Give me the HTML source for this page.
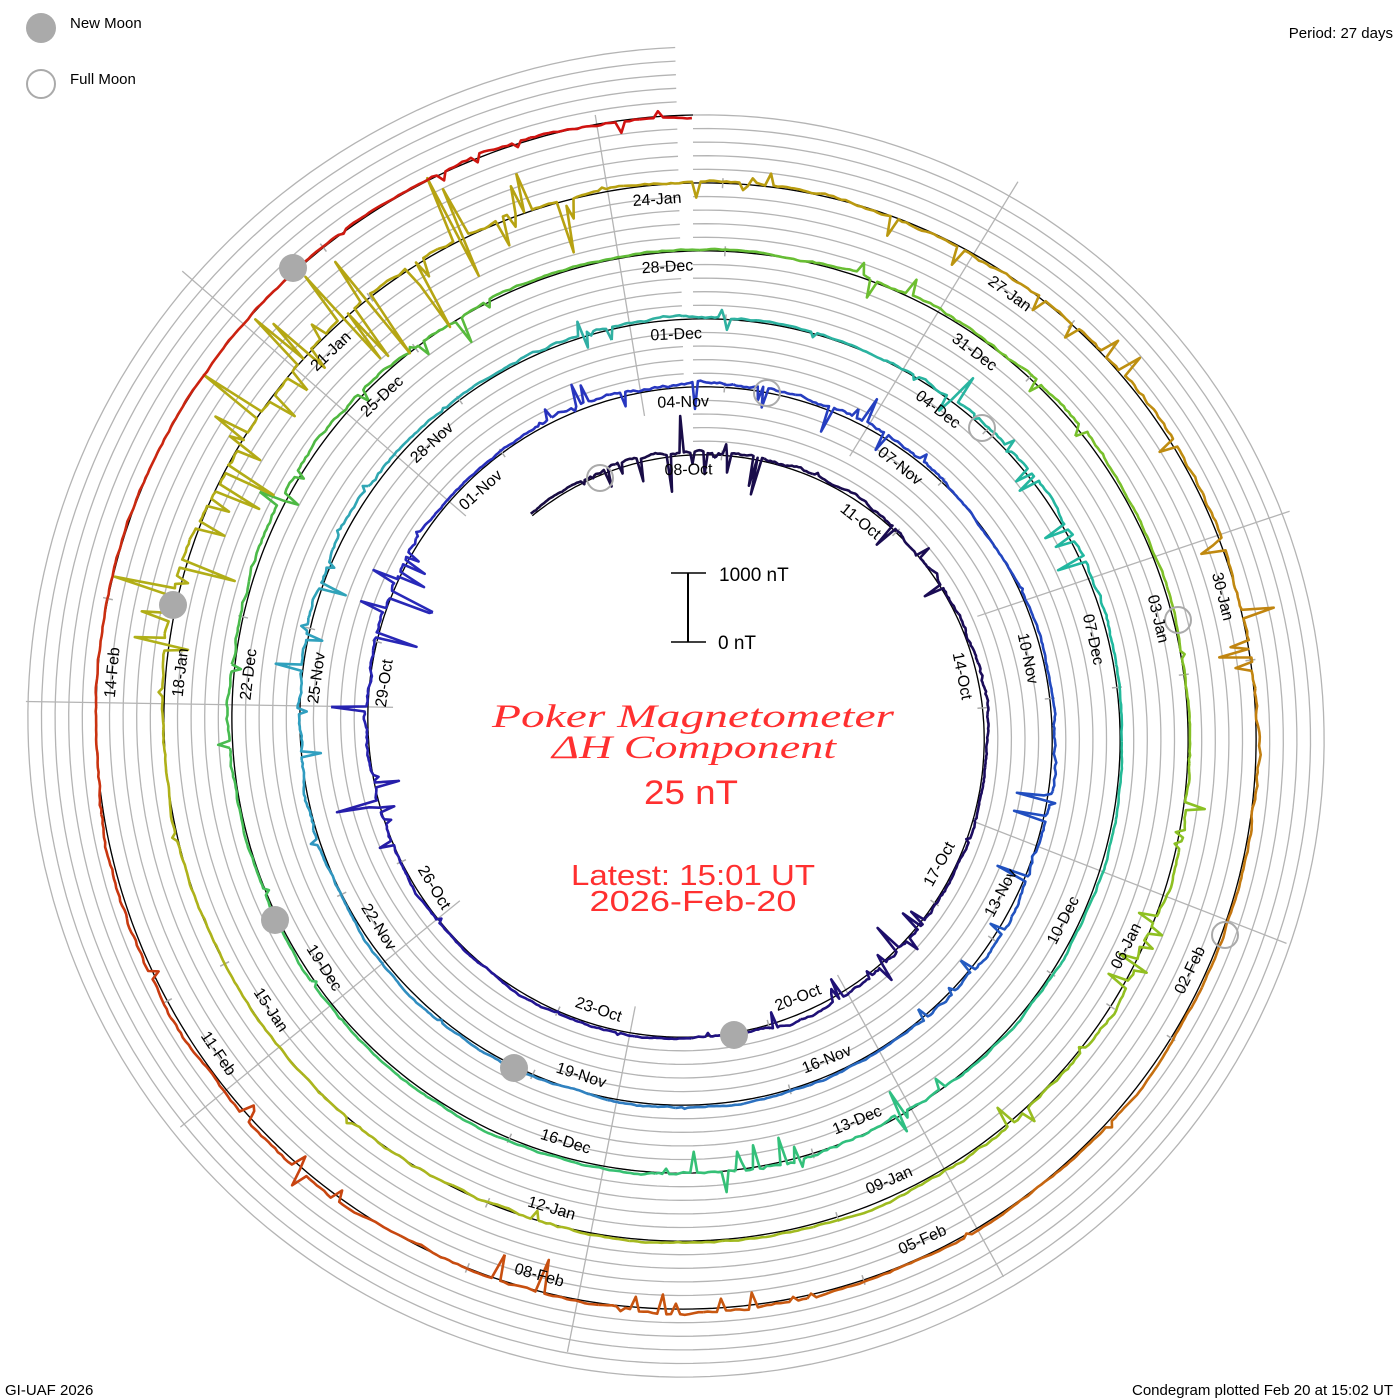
<!DOCTYPE html>
<html><head><meta charset="utf-8"><style>
html,body{margin:0;padding:0;background:#fff;}
svg{display:block;}
text{font-family:"Liberation Sans",sans-serif;}
</style></head><body>
<svg id="s" width="1400" height="1400" viewBox="0 0 1400 1400" xmlns="http://www.w3.org/2000/svg">
<rect width="1400" height="1400" fill="#fff"/>
<g id="grid"></g>
<g id="base"></g>
<g id="trace"></g>
<g id="moons"></g>
<g id="labels"></g>
<circle cx="41" cy="28" r="15" fill="#aaa"/>
<text x="70" y="28" font-size="15" fill="#000">New Moon</text>
<circle cx="41" cy="84" r="14" fill="none" stroke="#aaa" stroke-width="2"/>
<text x="70" y="84" font-size="15" fill="#000">Full Moon</text>
<text x="1393" y="38" font-size="15" text-anchor="end" fill="#000">Period: 27 days</text>
<text x="5" y="1395" font-size="15" fill="#000">GI-UAF 2026</text>
<text x="1393" y="1395" font-size="15" text-anchor="end" fill="#000">Condegram plotted Feb 20 at 15:02 UT</text>
<line x1="688" y1="573" x2="688" y2="642" stroke="#000" stroke-width="2"/>
<line x1="671" y1="573" x2="706" y2="573" stroke="#000" stroke-width="1.5"/>
<line x1="671" y1="642" x2="706" y2="642" stroke="#000" stroke-width="1.5"/>
<text x="719" y="581" font-size="19" fill="#000">1000 nT</text>
<text x="718" y="649" font-size="19" fill="#000">0 nT</text>
<text x="693" y="727" font-size="33" font-style="italic" text-anchor="middle" fill="#ff3030" textLength="402" lengthAdjust="spacingAndGlyphs" style="font-family:'Liberation Serif',serif">Poker Magnetometer</text>
<text x="694" y="758" font-size="33" font-style="italic" text-anchor="middle" fill="#ff3030" textLength="284" lengthAdjust="spacingAndGlyphs" style="font-family:'Liberation Serif',serif">ΔH Component</text>
<text x="691" y="804" font-size="34" text-anchor="middle" fill="#ff3030" textLength="94" lengthAdjust="spacingAndGlyphs">25 nT</text>
<text x="693" y="885" font-size="29" text-anchor="middle" fill="#ff3030" textLength="244" lengthAdjust="spacingAndGlyphs">Latest: 15:01 UT</text>
<text x="693" y="911" font-size="29" text-anchor="middle" fill="#ff3030" textLength="207" lengthAdjust="spacingAndGlyphs">2026-Feb-20</text>
</svg>
<script>
(function(){
var NS="http://www.w3.org/2000/svg";
var CX=693,CY=729,R0=274,RATE=68;
function P(psi,r){var a=psi*Math.PI/180;return [CX+r*Math.sin(a),CY-r*Math.cos(a)];}
function base(psi){return R0+RATE*psi/360;}
function el(tag,attrs,parent){var e=document.createElementNS(NS,tag);for(var k in attrs)e.setAttribute(k,attrs[k]);parent.appendChild(e);return e;}
var grid=document.getElementById('grid');
for(var m=0;m<=25;m++){
  var pts=[];
  for(var t=0;t<=359.5;t+=1.5){var p=P(t,base(t)+13.6*m);pts.push(p[0].toFixed(1)+','+p[1].toFixed(1));}
  el('polyline',{points:pts.join(' '),fill:'none',stroke:'#b4b4b4','stroke-width':'1.3'},grid);
}
var RX=693,RY=712;
for(var k=0;k<9;k++){
  var a=31.5+39.9*k, ar=a*Math.PI/180;
  var rIn=300, rOut=base(a%360)+340+2;
  if(k==8) rOut=605;
  el('line',{x1:RX+rIn*Math.sin(ar),y1:RY-rIn*Math.cos(ar),x2:RX+rOut*Math.sin(ar),y2:RY-rOut*Math.cos(ar),stroke:'#b4b4b4','stroke-width':'1.3'},grid);
}
var bg=document.getElementById('base');var bp=[];
for(var s=-37;s<=1800;s+=1){var p=P(s,base(s));bp.push(p[0].toFixed(1)+','+p[1].toFixed(1));}
el('polyline',{points:bp.join(' '),fill:'none',stroke:'#000','stroke-width':'1.3'},bg);
var DR=0.08;
for(var j=0;j<=44;j++){var ps=40*j-1+7-j*DR;var p1=P(ps,base(ps)-5),p2=P(ps,base(ps)+5);
 el('line',{x1:p1[0],y1:p1[1],x2:p2[0],y2:p2[1],stroke:'#aaa','stroke-width':'1.5'},bg);}
var stops=[[-37,'#180c40'],[119,'#1c0c60'],[239,'#2418a0'],[299,'#2828b8'],[359,'#2838c0'],[479,'#2050c0'],[559,'#3080c0'],[639,'#30a0c0'],[719,'#30b0a0'],[799,'#20b8a0'],[879,'#30c080'],[959,'#40c060'],[1039,'#50b840'],[1119,'#70c030'],[1199,'#90c020'],[1279,'#a8b820'],[1359,'#b0b018'],[1439,'#b8a010'],[1519,'#c08810'],[1599,'#c86010'],[1679,'#c84010'],[1759,'#cc2010'],[1800,'#d01010']];
function hx(c){return [parseInt(c.substr(1,2),16),parseInt(c.substr(3,2),16),parseInt(c.substr(5,2),16)];}
function col(s){for(var i=0;i<stops.length-1;i++){if(s<=stops[i+1][0]){var f=(s-stops[i][0])/(stops[i+1][0]-stops[i][0]);var a=hx(stops[i][1]),b=hx(stops[i+1][1]);return 'rgb('+Math.round(a[0]+(b[0]-a[0])*f)+','+Math.round(a[1]+(b[1]-a[1])*f)+','+Math.round(a[2]+(b[2]-a[2])*f)+')';}}return stops[stops.length-1][1];}
var seed=12345;function rnd(){seed|=0;seed=seed+0x6D2B79F5|0;var t=Math.imul(seed^seed>>>15,1|seed);t=t+Math.imul(t^t>>>7,61|t)^t;return((t^t>>>14)>>>0)/4294967296;}
var storms=[[-15,15,40],[40,80,25],[130,160,30],[255,300,50],[340,400,30],[455,495,40],[620,665,30],[700,720,20],[755,790,30],[870,900,30],[990,1050,28],[1100,1130,20],[1180,1230,25],[1280,1300,20],[1365,1425,75],[1440,1490,25],[1500,1535,35],[1615,1640,35],[1660,1700,18],[1780,1800,14]];
function amp(s){var a=5;for(var i=0;i<storms.length;i++){var st=storms[i];if(s>st[0]-10&&s<st[1]+10){var e=Math.min(1,(s-st[0]+10)/10,(st[1]+10-s)/10);a=Math.max(a,st[2]*e);}}return a;}
var tg=document.getElementById('trace');
var walk=0,step=0.45,chunk=[];
function flush(c,s){if(c.length>1)el('polyline',{points:c.join(' '),fill:'none',stroke:col(s),'stroke-width':'2.6','stroke-linejoin':'round'},tg);}
for(var s=-37;s<=1800;s+=step){
  var A=amp(s);
  walk+=(rnd()-0.5)*(A>6?2.2:1.1);walk*=0.96;
  var d=2+walk;
  if(rnd()<A/300){d+=(rnd()<0.7?-1:1)*rnd()*A;}
  var p=P(s,base(s)+d);chunk.push(p[0].toFixed(1)+','+p[1].toFixed(1));
  if(chunk.length>=24){flush(chunk,s);chunk=[chunk[chunk.length-1]];}
}
flush(chunk,1800);
var mg=document.getElementById('moons');
[[293,268],[173,605],[275,920],[514,1068],[734,1035]].forEach(function(c){el('circle',{cx:c[0],cy:c[1],r:14,fill:'#aaa'},mg);});
[[600,478],[767,393],[982,428],[1178,620],[1225,935]].forEach(function(c){el('circle',{cx:c[0],cy:c[1],r:13,fill:'none',stroke:'#aaa','stroke-width':'2'},mg);});
var lg=document.getElementById('labels');
var mon=['Jan','Feb','Mar','Apr','May','Jun','Jul','Aug','Sep','Oct','Nov','Dec'];
var d0=Date.UTC(2025,9,8);
for(var j=0;j<=43;j++){
  var dt=new Date(d0+j*3*86400000);
  var txt=('0'+dt.getUTCDate()).slice(-2)+'-'+mon[dt.getUTCMonth()];
  var ps=40*j-1-j*DR, th=((ps%360)+360)%360;
  var p=P(ps,base(ps)-15);
  var rot=(th>90&&th<270)?th-180:th;
  var t=el('text',{x:p[0].toFixed(1),y:p[1].toFixed(1),'font-size':'16','text-anchor':'middle','dominant-baseline':'central',fill:'#000',transform:'rotate('+rot.toFixed(1)+' '+p[0].toFixed(1)+' '+p[1].toFixed(1)+')'},lg);
  t.textContent=txt;
}
})();
</script>
</body></html>
